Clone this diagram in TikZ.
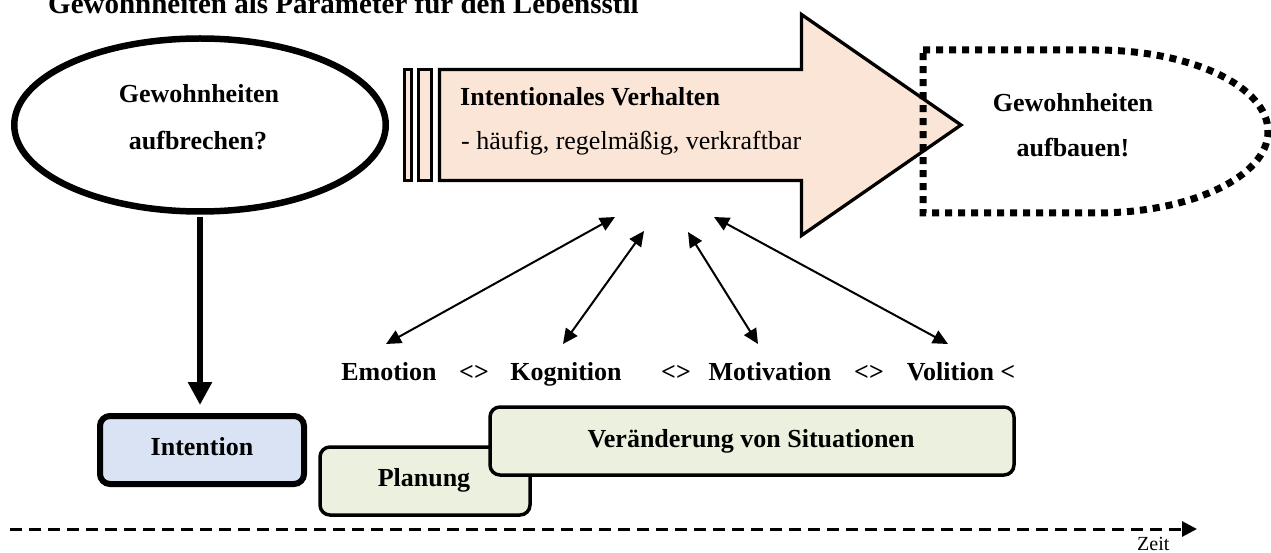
\documentclass[tikz,border=0pt]{standalone}
\usepackage{fontspec}
\setmainfont{Liberation Serif}
\usetikzlibrary{arrows.meta,shapes.geometric}
\definecolor{peach}{HTML}{FBE5D6}
\definecolor{lblue}{HTML}{DAE3F3}
\definecolor{lgreen}{HTML}{EBF1DE}
\begin{document}
\begin{tikzpicture}[x=1pt,y=-1pt,
  btxt/.style={font=\fontsize{26}{30}\selectfont\bfseries, inner sep=0pt, anchor=base},
  rtxt/.style={font=\fontsize{26}{30}\selectfont, inner sep=0pt, anchor=base west},
  bubble/.style={ellipse, draw, line width=6.5pt, inner sep=0pt},
  bigarrow/.style={draw, line width=3.3pt, fill=peach, line join=miter},
  dotbox/.style={draw, line width=7pt, dash pattern=on 7pt off 6pt},
  stagebox/.style={draw, rounded corners=10pt, inner sep=0pt},
  dbl/.style={line width=2pt, {Triangle[length=15pt,width=14pt]}-{Triangle[length=15pt,width=14pt]}},
  thickarr/.style={line width=6.5pt, -{Triangle[length=23pt,width=23pt]}},
  timearr/.style={line width=3pt, dash pattern=on 12pt off 7pt, -{Triangle[length=15pt,width=15pt]}}
]
\useasboundingbox (0,0) rectangle (1271,553);
\clip (0,0) rectangle (1271,553);

% title
\node[font=\fontsize{29}{32}\selectfont\bfseries, inner sep=0pt, anchor=base west] (title) at (48,13.5) {Gewohnheiten als Parameter für den Lebensstil};

% ellipse
\node[bubble, minimum width=371.5pt, minimum height=173pt] (brk) at (200,125) {};
\node[btxt] (brk1) at (199,103) {Gewohnheiten};
\node[btxt] (brk2) at (198,150) {aufbrechen?};

% big arrow
\draw[bigarrow] (404.5,69.5) rectangle (411.5,180.5);
\draw[bigarrow] (418.5,69.5) rectangle (431.5,180.5);
\draw[bigarrow] (439.5,69.5) -- (801.5,69.5) -- (801.5,14.5) -- (961,125) -- (801.5,235.5) -- (801.5,180.5) -- (439.5,180.5) -- cycle;
\node[btxt, anchor=base west] (ivh) at (460,106) {Intentionales Verhalten};
\node[rtxt] (ivh2) at (461,150) {- häufig, regelmäßig, verkraftbar};

% dotted D shape
\draw[dotbox] (923,50) -- (1096,50) .. controls (1191,50) and (1268,86.5) .. (1268,131.5) .. controls (1268,176.5) and (1191,213) .. (1096,213) -- (923,213) -- cycle;
\node[btxt] (abb1) at (1073,112) {Gewohnheiten};
\node[btxt] (abb2) at (1073,157) {aufbauen!};

% boxes
\node[stagebox, line width=6pt, fill=lblue, minimum width=204pt, minimum height=68pt] (int) at (202,450) {};
\node[btxt] (intT) at (202,455) {Intention};
\node[stagebox, line width=3.5pt, fill=lgreen, minimum width=210pt, minimum height=68pt] (plan) at (425,481) {};
\node[btxt] (planT) at (424,486) {Planung};
\node[stagebox, line width=3.5pt, fill=lgreen, minimum width=524pt, minimum height=68pt] (ver) at (752,441) {};
\node[btxt] (verT) at (751,447) {Veränderung von Situationen};

% thick arrow
\draw[thickarr, shorten <=2pt, shorten >=8pt] (brk.south) -- (brk.south |- int.north);

% labels
\node[btxt] (emo) at (389,380) {Emotion};
\node[btxt] (lg1) at (474,380) {<>};
\node[btxt] (kog) at (566,380) {Kognition};
\node[btxt] (lg2) at (676,380) {<>};
\node[btxt] (mot) at (770,380) {Motivation};
\node[btxt] (lg3) at (869,380) {<>};
\node[btxt] (vol) at (961,380) {Volition <};

% double arrows
\coordinate (a1t) at (615,217); \coordinate (a1b) at (386,344);
\coordinate (a2t) at (644,231); \coordinate (a2b) at (563,344);
\coordinate (a3t) at (688,232); \coordinate (a3b) at (758,344);
\coordinate (a4t) at (714,217); \coordinate (a4b) at (948,344);
\draw[dbl] (a1b) -- (a1t);
\draw[dbl] (a2b) -- (a2t);
\draw[dbl] (a3b) -- (a3t);
\draw[dbl] (a4b) -- (a4t);

% time axis
\coordinate (t0) at (10,529);
\coordinate (t1) at (1197,529);
\draw[timearr] (t0) -- (t1);
\node[font=\fontsize{20}{24}\selectfont, inner sep=0pt, anchor=base west] (zeit) at (1137,550) {Zeit};
\end{tikzpicture}
\end{document}
